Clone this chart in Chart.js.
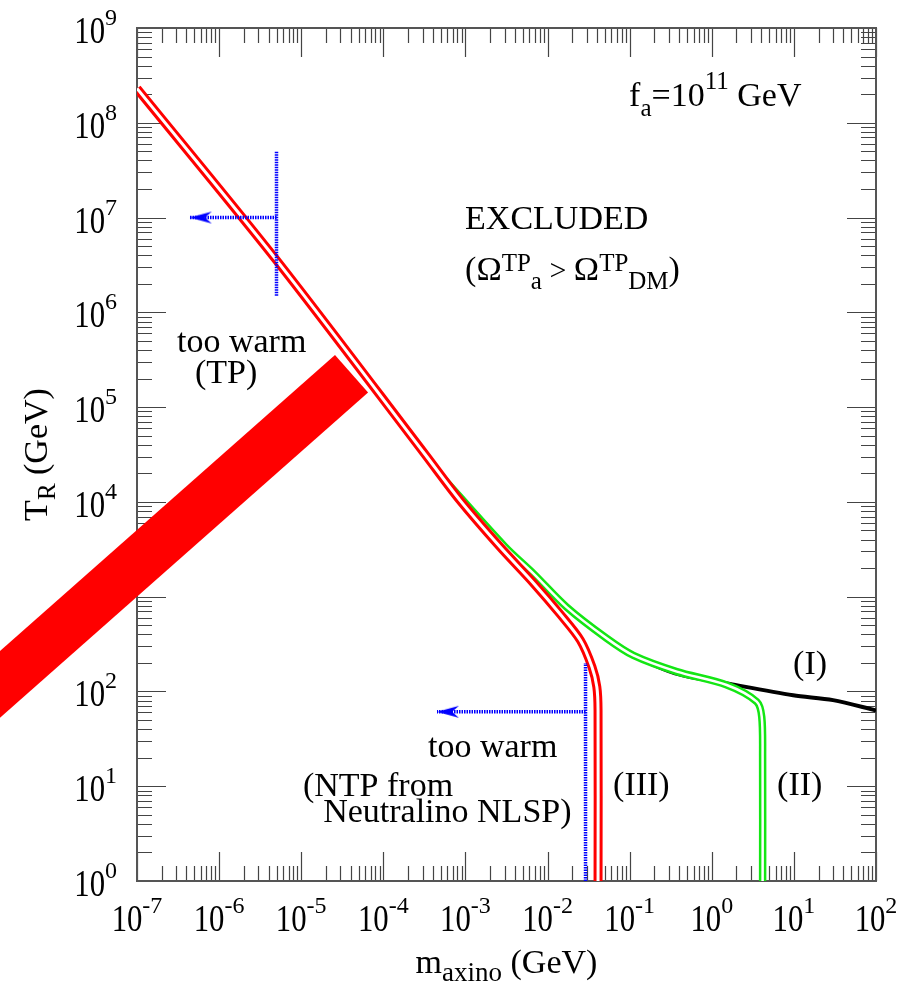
<!DOCTYPE html>
<html>
<head>
<meta charset="utf-8">
<script src="https://cdn.jsdelivr.net/npm/chart.js@4.4.1/dist/chart.umd.min.js"></script>
<style>
  html, body { margin: 0; padding: 0; background: #fff; }
  #wrap { width: 903px; height: 986px; position: relative; }
</style>
</head>
<body>
<div id="wrap"><canvas id="chart"></canvas></div>
<script>
// decades shown on the axes
const xDecades = [-7, -6, -5, -4, -3, -2, -1, 0, 1, 2];
const yDecades = [0, 1, 2, 3, 4, 5, 6, 7, 8, 9];

// curve (III): TP + NTP from neutralino NLSP
const curve3M = [1e-7, 5.0e-6, 3.2e-4, 8.5e-4, 2.6e-3, 6.8e-3, 0.0141, 0.0251, 0.0347, 0.0398, 0.0412, 0.0412];
const curve3T = [2.3e8, 3.55e6, 3.2e4, 1.05e4, 3.4e3, 1380, 660, 347, 182, 112, 63, 1];

// curve (II)
const curve2M = [5.0e-4, 3.0e-3, 6.7e-3, 0.0171, 0.0526, 0.111, 0.375, 1.52, 3.53, 4.06, 4.16, 4.16];
const curve2T = [1.9e4, 3.4e3, 1760, 776, 363, 240, 162, 117, 78, 54, 20, 1];

// curve (I)
const curve1M = [0.1, 0.357, 1.67, 9.8, 30, 100];
const curve1T = [245, 155, 120, 91, 81, 63];

// thick red band (too warm, TP)
const bandM = [1e-9, 4.1e-5];
const bandT = [66, 2.25e5];

// blue dotted bounds with arrows
const warmTpM = [5.0e-6, 5.0e-6];
const warmTpT = [1.5e6, 5.0e7];
const warmTpArrowM = [5.0e-6, 4.4e-7];
const warmTpArrowT = [1e7, 1e7];
const warmNtpM = [0.029, 0.029];
const warmNtpT = [1, 200];
const warmNtpArrowM = [0.029, 4.5e-4];
const warmNtpArrowT = [61, 61];

const pts = (xs, ys) => xs.map((v, i) => ({ x: v, y: ys[i] }));

const RED = '#ff0000';
const GREEN = '#14e614';
const BLUE = '#0000ff';
const SERIF = '"Liberation Serif", "Times New Roman", serif';

// arrow head, tip at the centre of the image
const arrowImg = document.createElement('canvas');
arrowImg.width = 48; arrowImg.height = 22;
(function () {
  const c = arrowImg.getContext('2d');
  c.fillStyle = BLUE;
  c.beginPath();
  c.moveTo(24, 11); c.lineTo(46, 5); c.lineTo(39, 11); c.lineTo(46, 17);
  c.closePath(); c.fill();
})();

function font(size) { return size + 'px ' + SERIF; }

// draw text pieces [text, size, dy] one after another
function drawRich(ctx, x, y, parts, align) {
  const widths = parts.map(p => { ctx.font = font(p[1]); return ctx.measureText(p[0]).width; });
  const total = widths.reduce((a, b) => a + b, 0);
  let cx = align === 'center' ? x - total / 2 : x;
  parts.forEach((p, i) => {
    ctx.font = font(p[1]);
    ctx.fillText(p[0], cx, y + p[2]);
    cx += widths[i];
  });
}

// "10" with exponent, tick-label style (narrow base digits)
const SQ = 0.83;
function drawPow(ctx, exp, px, py, mode) {
  ctx.font = font(37);
  const wBase = ctx.measureText('10').width * SQ;
  ctx.font = font(24);
  const wExp = ctx.measureText(String(exp)).width;
  let left, baseY, expY;
  if (mode === 'x') {
    left = px - (wBase + wExp) / 2;
    baseY = py + 50; expY = py + 32;
  } else {
    left = px - 20 - wExp - wBase;
    baseY = py + 15; expY = py - 3;
  }
  ctx.save();
  ctx.translate(left, baseY);
  ctx.scale(SQ, 1);
  ctx.font = font(37);
  ctx.fillText('10', 0, 0);
  ctx.restore();
  ctx.font = font(24);
  ctx.fillText(String(exp), left + wBase, expY);
}

const axesPlugin = {
  id: 'axesPlugin',
  beforeDatasetsDraw(chart) {
    const { ctx, chartArea: a, scales: { x, y } } = chart;
    ctx.save();
    // ticks, all pointing inwards
    ctx.strokeStyle = '#444';
    ctx.lineWidth = 1.2;
    ctx.beginPath();
    xDecades.forEach((e, i) => {
      for (let k = 1; k < 10; k++) {
        if (i === xDecades.length - 1 && k > 1) break;
        const px = Math.round(x.getPixelForValue(k * Math.pow(10, e))) + 0.5;
        const len = k === 1 ? 29 : 15;
        ctx.moveTo(px, a.bottom); ctx.lineTo(px, a.bottom - len);
        ctx.moveTo(px, a.top); ctx.lineTo(px, a.top + len);
      }
    });
    yDecades.forEach((e, i) => {
      for (let k = 1; k < 10; k++) {
        if (i === yDecades.length - 1 && k > 1) break;
        const py = Math.round(y.getPixelForValue(k * Math.pow(10, e))) + 0.5;
        const len = k === 1 ? 29 : 15;
        ctx.moveTo(a.left, py); ctx.lineTo(a.left + len, py);
        ctx.moveTo(a.right, py); ctx.lineTo(a.right - len, py);
      }
    });
    ctx.stroke();
    // frame
    ctx.strokeStyle = '#555';
    ctx.lineWidth = 2;
    ctx.strokeRect(a.left, a.top, a.right - a.left, a.bottom - a.top);
    // tick labels
    ctx.fillStyle = '#000';
    ctx.textBaseline = 'alphabetic';
    ctx.textAlign = 'left';
    xDecades.forEach(e => drawPow(ctx, e, x.getPixelForValue(Math.pow(10, e)), a.bottom, 'x'));
    yDecades.forEach(e => drawPow(ctx, e, a.left, y.getPixelForValue(Math.pow(10, e)), 'y'));
    // axis titles
    drawRich(ctx, (a.left + a.right) / 2, a.bottom + 92, [['m', 34, 0], ['axino', 27, 8], [' (GeV)', 34, 0]], 'center');
    ctx.save();
    ctx.translate(a.left - 90, (a.top + a.bottom) / 2);
    ctx.rotate(-Math.PI / 2);
    drawRich(ctx, 0, 0, [['T', 34, 0], ['R', 25, 8], [' (GeV)', 34, 0]], 'center');
    ctx.restore();
    ctx.restore();
  }
};

// text labels anchored in data space: [m, T_R, parts]
const notes = [
  [0.0984, 1.49e8, [['f', 34, 0], ['a', 25, 10], ['=10', 34, 0], ['11', 25, -17], [' GeV', 34, 0]]],
  [9.9e-4, 7.5e6, [['EXCLUDED', 34, 0]]],
  [9.9e-4, 2.2e6, [['(', 34, 0], ['\u03A9', 34, 0], ['TP', 25, -9], ['a', 25, 9], [' > ', 30, 0], ['\u03A9', 34, 0], ['TP', 25, -9], ['DM', 25, 9], [')', 34, 0]]],
  [3.07e-7, 3.85e5, [['too warm', 34, 0]]],
  [5.08e-7, 1.8e5, [['(TP)', 34, 0]]],
  [9.77, 152, [['(I)', 34, 0]]],
  [3.5e-4, 20.2, [['too warm', 34, 0]]],
  [1.05e-5, 7.8, [['(NTP from', 34, 0]]],
  [1.85e-5, 4.19, [['Neutralino NLSP)', 34, 0]]],
  [0.0628, 8.0, [['(III)', 34, 0]]],
  [6.24, 8.0, [['(II)', 34, 0]]]
];

const notesPlugin = {
  id: 'notesPlugin',
  afterDatasetsDraw(chart) {
    const { ctx, scales: { x, y } } = chart;
    ctx.save();
    ctx.fillStyle = '#000';
    ctx.textAlign = 'left';
    ctx.textBaseline = 'alphabetic';
    notes.forEach(n => drawRich(ctx, x.getPixelForValue(n[0]), y.getPixelForValue(n[1]), n[2]));
    ctx.restore();
  }
};

const line = (data, color, width, order, extra) => Object.assign({
  data: data, borderColor: color, borderWidth: width, pointRadius: 0,
  fill: false, tension: 0.3, order: order
}, extra || {});

const dotted = { borderDash: [1.5, 1], tension: 0 };

new Chart(document.getElementById('chart'), {
  type: 'line',
  data: {
    datasets: [
      line(pts(bandM, bandT), RED, 50, 0, { clip: false, tension: 0, borderCapStyle: 'butt' }),
      line(pts(warmTpM, warmTpT), BLUE, 3.5, 1, dotted),
      line(pts(warmTpArrowM, warmTpArrowT), BLUE, 3.5, 1, Object.assign({ pointRadius: [0, 5], pointStyle: arrowImg }, dotted)),
      line(pts(warmNtpM, warmNtpT), BLUE, 3.5, 1, dotted),
      line(pts(warmNtpArrowM, warmNtpArrowT), BLUE, 3.5, 1, Object.assign({ pointRadius: [0, 5], pointStyle: arrowImg }, dotted)),
      line(pts(curve3M, curve3T), '#ffffff', 3, 2),
      line(pts(curve3M, curve3T), RED, 9, 3),
      line(pts(curve2M, curve2T), '#ffffff', 2.5, 4),
      line(pts(curve2M, curve2T), GREEN, 7.5, 5),
      line(pts(curve1M, curve1T), '#000000', 4, 6)
    ]
  },
  options: {
    responsive: true,
    maintainAspectRatio: false,
    animation: false,
    events: [],
    layout: { padding: { left: 137, top: 28, right: 27, bottom: 105 } },
    scales: {
      x: { type: 'logarithmic', min: 1e-7, max: 1e2, display: false },
      y: { type: 'logarithmic', min: 1, max: 1e9, display: false }
    },
    plugins: { legend: { display: false }, tooltip: { enabled: false } }
  },
  plugins: [axesPlugin, notesPlugin]
});
</script>
</body>
</html>
